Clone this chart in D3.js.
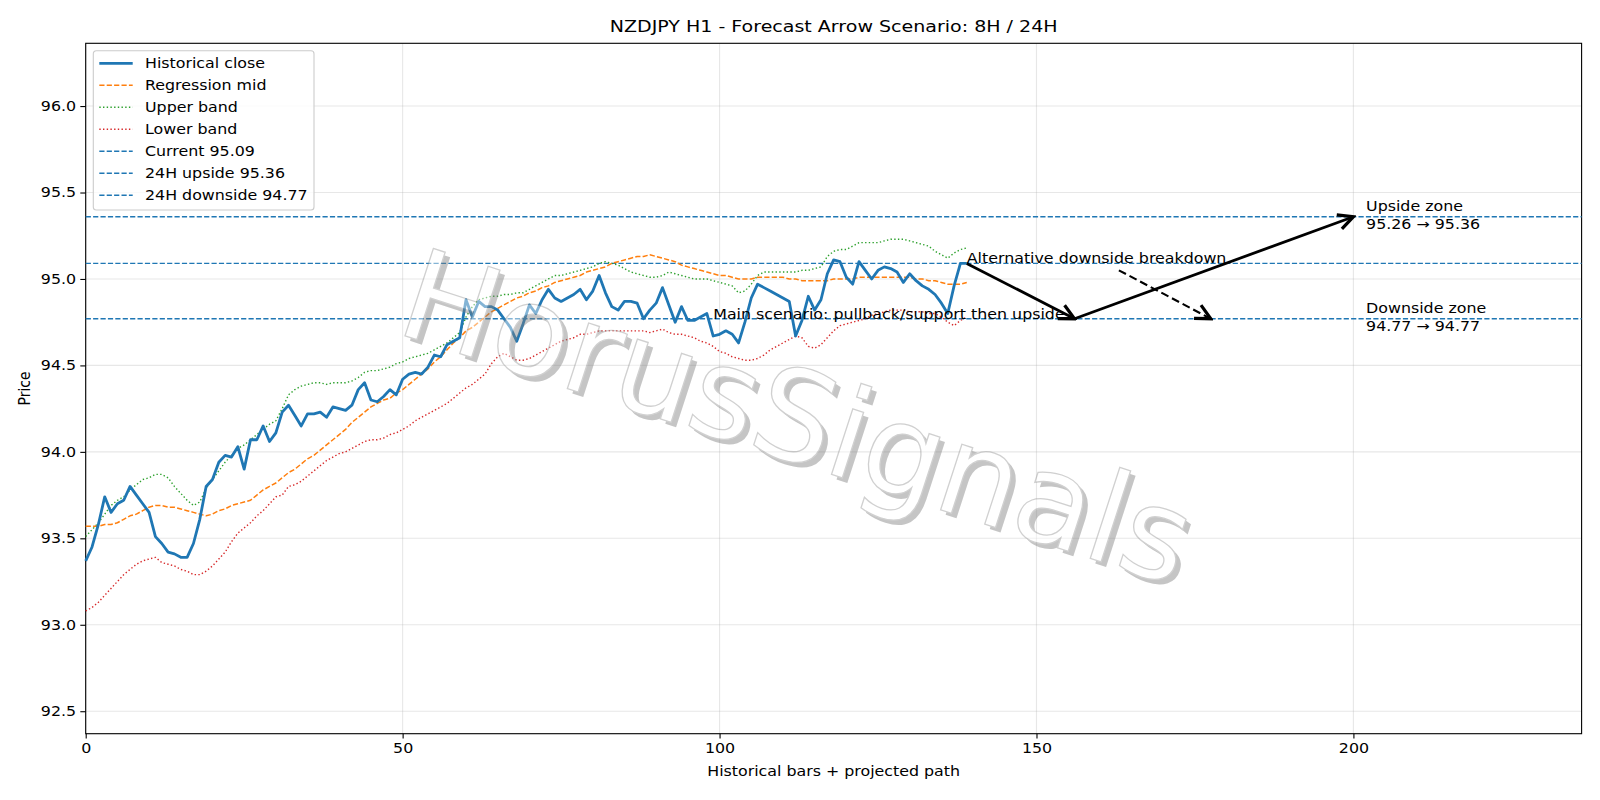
<!DOCTYPE html>
<html>
<head>
<meta charset="utf-8">
<script src="https://cdnjs.cloudflare.com/ajax/libs/d3/7.8.5/d3.min.js"></script>
<style>
  body { margin: 0; background: #fff; }
  svg { font-family: "DejaVu Sans", sans-serif; }
</style>
</head>
<body>
<div id="chart-area"></div>
<script>
// values, one per historical bar (0..139)
var closeValues = [
  93.37, 93.45, 93.58, 93.74, 93.65, 93.70, 93.72, 93.80, 93.75, 93.70,
  93.65, 93.51, 93.47, 93.42, 93.41, 93.39, 93.39, 93.47, 93.61, 93.80,
  93.84, 93.94, 93.98, 93.97, 94.03, 93.90, 94.07, 94.07, 94.15, 94.06,
  94.11, 94.23, 94.27, 94.21, 94.15, 94.22, 94.22, 94.23, 94.20, 94.26,
  94.25, 94.24, 94.27, 94.36, 94.40, 94.30, 94.29, 94.32, 94.36, 94.33,
  94.42, 94.45, 94.46, 94.45, 94.49, 94.56, 94.55, 94.62, 94.64, 94.66,
  94.88, 94.78, 94.87, 94.84, 94.84, 94.82, 94.77, 94.72, 94.64, 94.74,
  94.85, 94.80, 94.88, 94.94, 94.89, 94.87, 94.89, 94.91, 94.94, 94.88,
  94.93, 95.02, 94.92, 94.84, 94.82, 94.87, 94.87, 94.86, 94.77, 94.82,
  94.86, 94.95, 94.85, 94.75, 94.84, 94.76, 94.76, 94.78, 94.80, 94.67,
  94.68, 94.70, 94.68, 94.63, 94.75, 94.89, 94.97, 94.95, 94.93, 94.91,
  94.89, 94.87, 94.67, 94.76, 94.90, 94.82, 94.88, 95.03, 95.11, 95.10,
  95.01, 94.97, 95.10, 95.05, 95.00, 95.05, 95.07, 95.06, 95.04, 94.98,
  95.03, 94.99, 94.96, 94.94, 94.91, 94.86, 94.80, 94.96, 95.09, 95.09
];

var midValues = [
  93.57, 93.57, 93.57, 93.58, 93.58, 93.59, 93.61, 93.63, 93.64, 93.66,
  93.68, 93.69, 93.69, 93.68, 93.68, 93.67, 93.66, 93.65, 93.64, 93.63,
  93.64, 93.66, 93.67, 93.69, 93.70, 93.71, 93.72, 93.75, 93.78, 93.80,
  93.82, 93.85, 93.88, 93.90, 93.93, 93.96, 93.98, 94.01, 94.04, 94.07,
  94.10, 94.13, 94.17, 94.20, 94.23, 94.26, 94.28, 94.30, 94.31, 94.34,
  94.36, 94.39, 94.42, 94.45, 94.48, 94.52, 94.55, 94.59, 94.63, 94.66,
  94.70, 94.72, 94.75, 94.78, 94.81, 94.83, 94.85, 94.87, 94.89, 94.90,
  94.92, 94.93, 94.95, 94.96, 94.98, 94.99, 95.00, 95.01, 95.02, 95.04,
  95.05, 95.06, 95.07, 95.09, 95.10, 95.11, 95.12, 95.13, 95.13, 95.14,
  95.13, 95.12, 95.11, 95.10, 95.08, 95.07, 95.06, 95.05, 95.04, 95.03,
  95.02, 95.02, 95.01, 95.00, 95.00, 95.00, 95.01, 95.01, 95.01, 95.01,
  95.01, 95.00, 95.00, 94.99, 94.99, 94.99, 94.99, 94.99, 95.00, 95.00,
  95.00, 95.00, 95.01, 95.01, 95.01, 95.01, 95.01, 95.01, 95.01, 95.01,
  95.01, 95.00, 95.00, 94.99, 94.99, 94.98, 94.97, 94.97, 94.97, 94.98
];

var upperValues = [
  93.51, 93.55, 93.59, 93.64, 93.69, 93.72, 93.74, 93.78, 93.81, 93.84,
  93.85, 93.87, 93.87, 93.85, 93.80, 93.76, 93.72, 93.69, 93.71, 93.79,
  93.84, 93.89, 93.94, 93.98, 94.02, 94.04, 94.07, 94.10, 94.13, 94.16,
  94.18, 94.25, 94.33, 94.36, 94.38, 94.39, 94.40, 94.40, 94.39, 94.40,
  94.40, 94.40, 94.41, 94.43, 94.46, 94.47, 94.47, 94.48, 94.49, 94.51,
  94.52, 94.54, 94.55, 94.56, 94.57, 94.59, 94.61, 94.63, 94.66, 94.69,
  94.78, 94.84, 94.88, 94.89, 94.90, 94.90, 94.91, 94.91, 94.92, 94.92,
  94.94, 94.96, 94.98, 95.00, 95.02, 95.02, 95.03, 95.04, 95.05, 95.06,
  95.07, 95.09, 95.10, 95.09, 95.08, 95.06, 95.04, 95.03, 95.02, 95.01,
  95.01, 95.02, 95.04, 95.03, 95.02, 95.01, 95.00, 95.00, 95.00, 94.99,
  94.98, 94.97, 94.96, 94.92, 94.93, 94.97, 95.02, 95.04, 95.04, 95.04,
  95.04, 95.04, 95.04, 95.05, 95.05, 95.06, 95.07, 95.13, 95.16, 95.17,
  95.17, 95.19, 95.21, 95.21, 95.21, 95.21, 95.22, 95.23, 95.23, 95.23,
  95.22, 95.21, 95.20, 95.19, 95.16, 95.14, 95.12, 95.15, 95.17, 95.18
];

var lowerValues = [
  93.08, 93.10, 93.13, 93.17, 93.21, 93.25, 93.29, 93.32, 93.35, 93.37,
  93.38, 93.39, 93.36, 93.35, 93.34, 93.32, 93.31, 93.29, 93.29, 93.31,
  93.34, 93.38, 93.42, 93.48, 93.53, 93.56, 93.59, 93.63, 93.66, 93.70,
  93.74, 93.75, 93.80, 93.81, 93.83, 93.86, 93.89, 93.92, 93.95, 93.97,
  93.99, 94.00, 94.02, 94.04, 94.06, 94.07, 94.07, 94.08, 94.10, 94.11,
  94.13, 94.15, 94.18, 94.20, 94.22, 94.24, 94.26, 94.28, 94.31, 94.34,
  94.37, 94.39, 94.42, 94.45, 94.51, 94.55, 94.57, 94.55, 94.53, 94.53,
  94.54, 94.56, 94.58, 94.60, 94.62, 94.64, 94.65, 94.66, 94.68, 94.68,
  94.69, 94.70, 94.70, 94.70, 94.70, 94.70, 94.70, 94.70, 94.70, 94.69,
  94.70, 94.71, 94.69, 94.68, 94.68, 94.67, 94.66, 94.64, 94.63, 94.61,
  94.58, 94.57, 94.55, 94.54, 94.53, 94.53, 94.54, 94.56, 94.59, 94.61,
  94.63, 94.65, 94.67, 94.66, 94.61, 94.60, 94.62, 94.66, 94.70, 94.73,
  94.74, 94.75, 94.76, 94.77, 94.79, 94.80, 94.81, 94.82, 94.82, 94.82,
  94.81, 94.81, 94.81, 94.80, 94.80, 94.78, 94.75, 94.73, 94.76, 94.78
];

// horizontal reference levels
var levelValues = [95.09, 95.36, 94.77];
var levelNames = ["Current 95.09", "24H upside 95.36", "24H downside 94.77"];

// projected path arrows (bar, price)
var arrowFrom = [[139, 95.09], [156, 94.77], [163, 95.05]];
var arrowTo = [[156, 94.77], [200, 95.36], [177.5, 94.77]];
var arrowDashed = [false, false, true];

// annotations
var mainText = "Main scenario: pullback/support then upside";
var mainTextAt = [99, 94.77];
var altText = "Alternative downside breakdown";
var altTextAt = [139, 95.09];
var zoneX = 202;
var zoneValues = [95.36, 94.77];
var zoneLines = [["Upside zone", "95.26 \u2192 95.36"], ["Downside zone", "94.77 \u2192 94.77"]];

var xTicks = [0, 50, 100, 150, 200];
var yTicks = [92.5, 93.0, 93.5, 94.0, 94.5, 95.0, 95.5, 96.0];

// the source picture is a bit wider than tall, text looks stretched sideways
var SX = 1.14;

var ForecastChart = function(_parentElement) {
  this.parentElement = _parentElement;
  this.initVis();
};

ForecastChart.prototype.initVis = function() {
  var vis = this;

  vis.margin = { top: 43.3, right: 18.4, bottom: 66.3, left: 85.7 };
  vis.width = 1600 - vis.margin.left - vis.margin.right;
  vis.height = 800 - vis.margin.top - vis.margin.bottom;

  vis.svg = d3.select(vis.parentElement).append("svg")
    .attr("width", 1600)
    .attr("height", 800);

  vis.svg.append("defs").append("marker")
    .attr("id", "head")
    .attr("markerUnits", "userSpaceOnUse")
    .attr("markerWidth", 20)
    .attr("markerHeight", 20)
    .attr("viewBox", "-14 -8 16 16")
    .attr("refX", 0)
    .attr("refY", 0)
    .attr("orient", "auto")
    .append("path")
    .attr("d", "M-12,-6 L0,0 L-12,6")
    .attr("fill", "none")
    .attr("stroke", "#000")
    .attr("stroke-width", 2.6);

  vis.g = vis.svg.append("g")
    .attr("transform", "translate(" + vis.margin.left + "," + vis.margin.top + ")");

  vis.x = d3.scaleLinear().domain([0, 236]).range([0, vis.width]);
  vis.y = d3.scaleLinear().domain([92.37, 96.363]).range([vis.height, 0]);

  vis.drawAxes();
  vis.drawSeries();
  vis.drawWatermark();
  vis.drawAnnotations();
  vis.drawLegend();
};

// text placed at (x, y) and widened by SX
ForecastChart.prototype.addText = function(parent, x, y, str, size, anchor) {
  return parent.append("text")
    .attr("transform", "translate(" + x + "," + y + ") scale(" + SX + ",1)")
    .attr("text-anchor", anchor || "start")
    .attr("font-size", size)
    .attr("fill", "#000")
    .text(str);
};

ForecastChart.prototype.drawAxes = function() {
  var vis = this;

  // grid
  vis.g.selectAll(".grid-x").data(xTicks).enter().append("line")
    .attr("x1", function(d) { return vis.x(d); })
    .attr("x2", function(d) { return vis.x(d); })
    .attr("y1", 0).attr("y2", vis.height)
    .attr("stroke", "#b0b0b0").attr("stroke-opacity", 0.3).attr("stroke-width", 1.1);

  vis.g.selectAll(".grid-y").data(yTicks).enter().append("line")
    .attr("x1", 0).attr("x2", vis.width)
    .attr("y1", function(d) { return vis.y(d); })
    .attr("y2", function(d) { return vis.y(d); })
    .attr("stroke", "#b0b0b0").attr("stroke-opacity", 0.3).attr("stroke-width", 1.1);

  var xAxis = d3.axisBottom(vis.x).tickValues(xTicks).tickSize(4.9).tickPadding(4.5)
    .tickFormat(d3.format("d"));
  var yAxis = d3.axisLeft(vis.y).tickValues(yTicks).tickSize(5.4).tickPadding(4.2)
    .tickFormat(d3.format(".1f"));

  var xg = vis.g.append("g")
    .attr("transform", "translate(0," + vis.height + ")")
    .call(xAxis);
  var yg = vis.g.append("g").call(yAxis);

  [xg, yg].forEach(function(ax) {
    ax.select(".domain").remove();
    ax.selectAll("line").attr("stroke", "#000").attr("stroke-width", 1.1);
    ax.selectAll("text")
      .attr("transform", "scale(" + SX + ",1)")
      .attr("font-family", "DejaVu Sans")
      .attr("font-size", "13.9px")
      .attr("fill", "#000");
  });
  yg.selectAll("text").attr("x", -9.6 / SX);

  // frame
  vis.g.append("rect")
    .attr("width", vis.width)
    .attr("height", vis.height)
    .attr("fill", "none")
    .attr("stroke", "#000")
    .attr("stroke-width", 1.1);

  vis.addText(vis.svg, vis.margin.left + vis.width / 2, 32,
    "NZDJPY H1 - Forecast Arrow Scenario: 8H / 24H", "16.7px", "middle");

  vis.addText(vis.svg, vis.margin.left + vis.width / 2, 776,
    "Historical bars + projected path", "13.9px", "middle");

  vis.svg.append("text")
    .attr("transform", "translate(30," + (vis.margin.top + vis.height / 2) + ") scale(" + SX + ",1) rotate(-90)")
    .attr("text-anchor", "middle")
    .attr("font-size", "13.9px")
    .text("Price");
};

ForecastChart.prototype.drawSeries = function() {
  var vis = this;

  var line = d3.line()
    .x(function(d, i) { return vis.x(i); })
    .y(function(d) { return vis.y(d); });

  vis.series = [
    { name: "Historical close", values: closeValues, color: "#1f77b4", width: 2.8, dash: null },
    { name: "Regression mid", values: midValues, color: "#ff7f0e", width: 1.5, dash: "5.2,2.2" },
    { name: "Upper band", values: upperValues, color: "#2ca02c", width: 1.4, dash: "1.4,2.3" },
    { name: "Lower band", values: lowerValues, color: "#d62728", width: 1.4, dash: "1.4,2.3" }
  ];

  // level lines
  vis.g.selectAll(".level").data(levelValues).enter().append("line")
    .attr("x1", 0).attr("x2", vis.width)
    .attr("y1", function(d) { return vis.y(d); })
    .attr("y2", function(d) { return vis.y(d); })
    .attr("stroke", "#1f77b4")
    .attr("stroke-width", 1.4)
    .attr("stroke-dasharray", "5.2,2.2");

  vis.g.selectAll(".series").data(vis.series.slice().reverse()).enter().append("path")
    .attr("d", function(d) { return line(d.values); })
    .attr("fill", "none")
    .attr("stroke", function(d) { return d.color; })
    .attr("stroke-width", function(d) { return d.width; })
    .attr("stroke-dasharray", function(d) { return d.dash; })
    .attr("stroke-linejoin", "round");
};

ForecastChart.prototype.drawWatermark = function() {
  var vis = this;

  var wm = vis.svg.append("g").attr("opacity", 0.45);

  // grey drop shadow, then the pale outlined letters
  wm.append("text")
    .attr("transform", "translate(789,464) rotate(18)")
    .attr("text-anchor", "middle")
    .attr("font-size", "126px")
    .attr("fill", "#808080")
    .text("HorusSignals");

  wm.append("text")
    .attr("transform", "translate(784,459) rotate(18)")
    .attr("text-anchor", "middle")
    .attr("font-size", "126px")
    .attr("fill", "#fff")
    .attr("stroke", "#999")
    .attr("stroke-width", 1.3)
    .text("HorusSignals");
};

ForecastChart.prototype.drawAnnotations = function() {
  var vis = this;

  vis.g.selectAll(".arrow").data(arrowFrom).enter().append("line")
    .attr("x1", function(d) { return vis.x(d[0]); })
    .attr("y1", function(d) { return vis.y(d[1]); })
    .attr("x2", function(d, i) { return vis.x(arrowTo[i][0]); })
    .attr("y2", function(d, i) { return vis.y(arrowTo[i][1]); })
    .attr("stroke", "#000")
    .attr("stroke-width", function(d, i) { return arrowDashed[i] ? 2.1 : 2.8; })
    .attr("stroke-dasharray", function(d, i) { return arrowDashed[i] ? "8,4" : null; })
    .attr("marker-end", "url(#head)");

  vis.addText(vis.g, vis.x(mainTextAt[0]), vis.y(mainTextAt[1]), mainText, "13.9px");
  vis.addText(vis.g, vis.x(altTextAt[0]), vis.y(altTextAt[1]), altText, "13.9px");

  zoneValues.forEach(function(v, i) {
    var t = vis.addText(vis.g, vis.x(zoneX), vis.y(v), null, "13.9px");
    t.append("tspan").attr("x", 0).attr("dy", "-0.4em").text(zoneLines[i][0]);
    t.append("tspan").attr("x", 0).attr("dy", "1.29em").text(zoneLines[i][1]);
  });
};

ForecastChart.prototype.drawLegend = function() {
  var vis = this;

  var items = vis.series.map(function(s) {
    return { name: s.name, color: s.color, width: s.width === 2.8 ? 2.8 : 1.4, dash: s.dash };
  });
  levelNames.forEach(function(n) {
    items.push({ name: n, color: "#1f77b4", width: 1.4, dash: "5.2,2.2" });
  });

  var lg = vis.svg.append("g").attr("transform", "translate(93.3,50.7)");

  lg.append("rect")
    .attr("width", 220.7)
    .attr("height", 159.3)
    .attr("rx", 3)
    .attr("fill", "#fff")
    .attr("fill-opacity", 0.8)
    .attr("stroke", "#ccc")
    .attr("stroke-width", 1.1);

  var row = lg.selectAll(".row").data(items).enter().append("g")
    .attr("transform", function(d, i) { return "translate(0," + (12.6 + i * 22) + ")"; });

  row.append("line")
    .attr("x1", 6).attr("x2", 39.4)
    .attr("stroke", function(d) { return d.color; })
    .attr("stroke-width", function(d) { return d.width; })
    .attr("stroke-dasharray", function(d) { return d.dash; });

  row.append("text")
    .attr("transform", "translate(51.7,0) scale(" + SX + ",1)")
    .attr("dy", "0.36em")
    .attr("font-size", "13.9px")
    .text(function(d) { return d.name; });
};

var chart = new ForecastChart("#chart-area");
</script>
</body>
</html>
